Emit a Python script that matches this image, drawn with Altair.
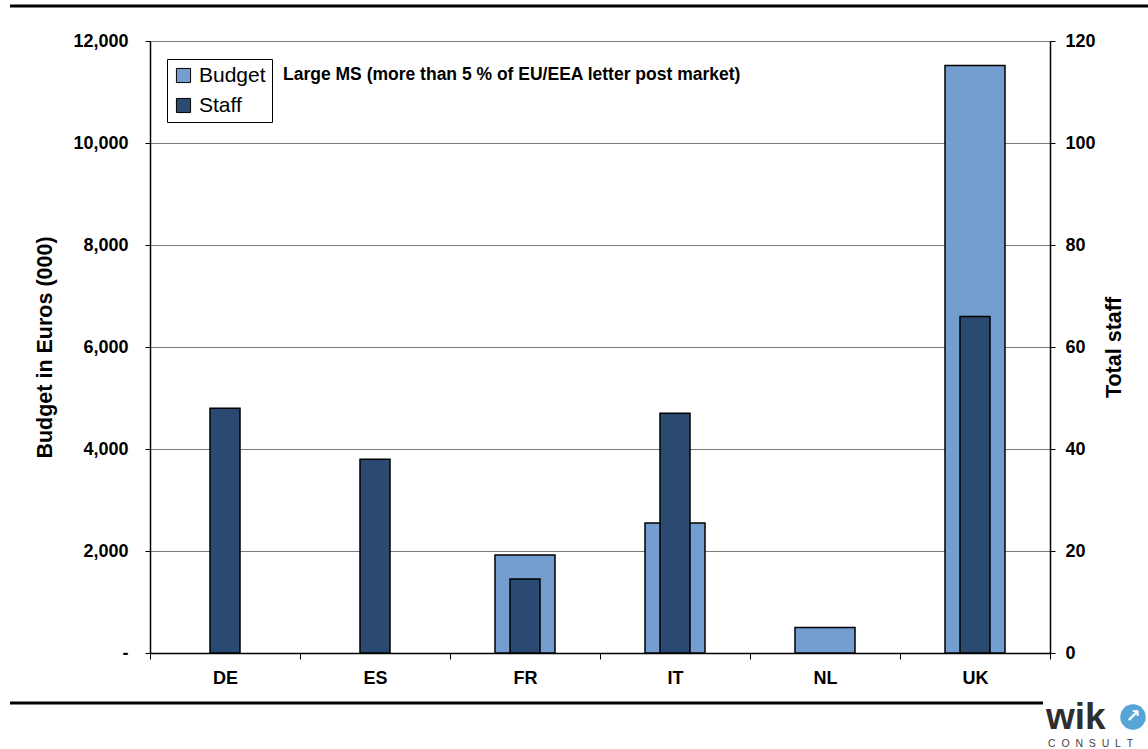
import altair as alt
import pandas as pd

countries = ["DE", "ES", "FR", "IT", "NL", "UK"]
budget = [None, None, 1920, 2550, 500, 11520]
staff = [48, 38, 14.5, 47, None, 66]
left_ticks = [0, 2000, 4000, 6000, 8000, 10000, 12000]
right_ticks = [0, 20, 40, 60, 80, 100, 120]
series_names = ["Budget", "Staff"]
series_colors = ["#739ECF", "#2A4A72"]

FONT = "Liberation Sans"
NB = "\u00a0"

budget_df = pd.DataFrame({"country": countries, "value": budget, "series": "Budget"}).dropna()
staff_df = pd.DataFrame({"country": countries, "value": staff, "series": "Staff"}).dropna()
one = pd.DataFrame({"k": [0]})

xenc = alt.X(
    "country:N",
    sort=countries,
    title=None,
    scale=alt.Scale(paddingInner=0, paddingOuter=0),
    axis=alt.Axis(
        tickBand="extent", tickSize=6, tickColor="black", domainColor="black",
        labelFontSize=18, labelFontWeight="bold", labelFont=FONT, labelColor="black",
        labelAngle=0, labelPadding=10, grid=False, domainWidth=1.5,
    ),
)

color = alt.Color(
    "series:N",
    scale=alt.Scale(domain=series_names, range=series_colors),
    legend=alt.Legend(
        title=None, orient="none", legendX=17, legendY=18,
        strokeColor="black", fillColor="white", padding=6,
        labelFontSize=21, labelFont=FONT, labelColor="black",
        symbolType="square", symbolSize=200, symbolStrokeColor="black",
        symbolStrokeWidth=1, symbolOpacity=1, rowPadding=8, labelOffset=5,
    ),
)

budget_bars = alt.Chart(budget_df).mark_bar(
    size=60, stroke="black", strokeWidth=1.5
).encode(
    x=xenc,
    y=alt.Y(
        "value:Q",
        scale=alt.Scale(domain=[0, 12000], nice=False),
        axis=alt.Axis(
            values=left_ticks, orient="left",
            labelExpr="datum.value == 0 ? '-' : format(datum.value, ',')",
            grid=True, gridColor="#7a7a7a", gridWidth=1,
            tickSize=5, tickColor="black", domainColor="black", domainWidth=1.5,
            labelFontSize=18, labelFontWeight="bold", labelFont=FONT, labelColor="black",
            labelPadding=17,
            title="Budget in Euros (000)", titleFontSize=21.5, titleFontWeight="bold",
            titleFont=FONT, titleColor="black", titleAngle=270,
            titleX=-105, titleY=306, titleAlign="center", titleBaseline="middle",
        ),
    ),
    color=color,
)

staff_bars = alt.Chart(staff_df).mark_bar(
    size=30, stroke="black", strokeWidth=1.5
).encode(
    x=xenc,
    y=alt.Y(
        "value:Q",
        scale=alt.Scale(domain=[0, 120], nice=False),
        axis=alt.Axis(
            values=right_ticks, orient="right", grid=False,
            tickSize=5, tickColor="black", domainColor="black", domainWidth=1.5,
            labelFontSize=18, labelFontWeight="bold", labelFont=FONT, labelColor="black",
            labelPadding=10,
            title="Total staff", titleFontSize=21.5, titleFontWeight="bold",
            titleFont=FONT, titleColor="black", titleAngle=270,
            titleX=64, titleY=306, titleAlign="center", titleBaseline="middle",
        ),
    ),
    color=color,
)

bars = alt.layer(budget_bars, staff_bars).resolve_scale(y="independent")

title_text = alt.Chart(one).mark_text(
    text="Large MS (more than 5 % of EU/EEA letter post market)",
    align="left", baseline="middle", fontSize=17.5, fontWeight="bold", font=FONT, color="black",
).encode(x=alt.value(133), y=alt.value(34))

top_line = alt.Chart(one).mark_rule(color="black", strokeWidth=3).encode(
    x=alt.value(-140), x2=alt.value(998), y=alt.value(-35)
)
bottom_line = alt.Chart(one).mark_rule(color="black", strokeWidth=3).encode(
    x=alt.value(-140), x2=alt.value(893), y=alt.value(662)
)

logo_circle = alt.Chart(one).mark_point(
    shape="circle", filled=True, color="#57A5D6", size=650, opacity=1
).encode(x=alt.value(983), y=alt.value(676))
logo_arrow = alt.Chart(one).mark_text(
    text="\u2197", align="center", baseline="middle", fontSize=18, fontWeight="bold",
    font="DejaVu Sans", color="white",
).encode(x=alt.value(983), y=alt.value(676))
logo_wik = alt.Chart(one).mark_text(
    text="wik", align="left", baseline="alphabetic", fontSize=37, fontWeight="bold",
    font=FONT, color="#2E2E2E",
).encode(x=alt.value(896), y=alt.value(688))
logo_consult = alt.Chart(one).mark_text(
    text=(NB * 2).join(list("CONSULT")), align="left", baseline="middle", fontSize=10.5,
    font=FONT, color="#444444",
).encode(x=alt.value(898), y=alt.value(703))

chart = alt.layer(
    bars, title_text, top_line, bottom_line, logo_circle, logo_arrow, logo_wik, logo_consult
).properties(
    width=900, height=612,
    autosize=alt.AutoSizeParams(type="none"),
    padding={"left": 150, "top": 41, "right": 98, "bottom": 96},
).configure_view(stroke=None).configure(background="white")

chart.save("out.html", embed_options={"renderer": "svg", "actions": False})
